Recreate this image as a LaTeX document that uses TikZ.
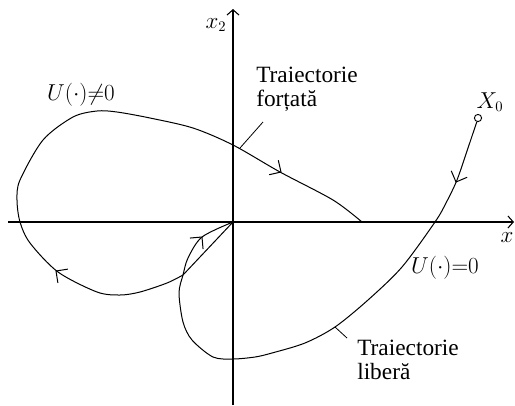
\documentclass[tikz,border=0pt]{standalone}
\usepackage{fontspec}
\setmainfont{Liberation Serif}
\usetikzlibrary{arrows.meta}
\tikzset{
  axis/.style={line width=1.1pt,-{Straight Barb[length=4pt,width=9pt,line width=0.8pt]}},
  traj/.style={line width=0.75pt},
  lbl/.style={font=\fontsize{16}{15.5}\selectfont, inner sep=0pt},
  txt/.style={font=\fontsize{17.5}{17.5}\selectfont, inner sep=0pt, align=left, anchor=north west},
  leader/.style={line width=0.6pt},
  barb/.pic={\draw[line width=0.75pt] (-6.4pt,6.4pt) -- (0,0) -- (-6.4pt,-6.4pt);}
}
\begin{document}
\begin{tikzpicture}[x=0.75pt,y=-0.75pt]
\useasboundingbox (0,0) rectangle (515,405);
% axes
\coordinate (ybot) at (233,405);
\coordinate (ytop) at (233,9);
\coordinate (xlft) at (8,222);
\coordinate (xrgt) at (514,222);
\draw[axis] (xlft) -- (xrgt);
\draw[axis] (ybot) -- (ytop);
% key points
\coordinate (O) at (233,222);
\coordinate (J) at (183,275);
\coordinate (E) at (362,222);
\coordinate (X0pt) at (478,118);
\coordinate (X0s) at (476.8,121.8);
\draw[line width=0.7pt] (X0pt) circle[radius=3.6];
% forced trajectory
\draw[traj] (O) -- (J) -- plot[smooth] coordinates {(183,275) (167,283) (140,292) (120,295) (97,292) (58,272) (30,243) (20,222) (17,200) (20,180) (43,140) (73,117) (97,111) (117,112) (150,118) (193,128) (233,145) (280,172) (333,200) (362,222)};
% free trajectory
\draw[traj] (X0s) -- plot[smooth] coordinates {(476.8,121.8) (468,148) (457,180) (446,203) (435,222) (402,267) (368,300) (335,327) (305,343) (272,353) (255,357) (233,359) (213,357) (192,340) (183,322) (179,293) (183,275) (188,258) (202,237) (233,222)};
% arrowheads
\pic[rotate=-32] at (281,172) {barb};
\pic[rotate=-112] at (456,182) {barb};
\pic[rotate=144] at (56,271) {barb};
\pic[rotate=50] at (202,237) {barb};
% labels
\node[lbl] (x2l) at (216,25) {$x_2$};
\node[lbl] (xl) at (507,238) {$x$};
\node[lbl] (Uneq) at (81,95) {$U(\cdot){\neq}0$};
\node[txt] (ff) at (256,67) {Traiectorie\\forțată};
\node[lbl] (X0l) at (490,102) {$X_0$};
\node[lbl] (Ueq) at (445,268) {$U(\cdot){=}0$};
\node[txt] (fl) at (357,340) {Traiectorie\\liberă};
% leaders
\coordinate (lf1) at (240,148);
\coordinate (lf2) at (263,122);
\coordinate (ll1) at (335,327);
\coordinate (ll2) at (347,338);
\draw[leader] (lf1) -- (lf2);
\draw[leader] (ll1) -- (ll2);
\end{tikzpicture}
\end{document}
